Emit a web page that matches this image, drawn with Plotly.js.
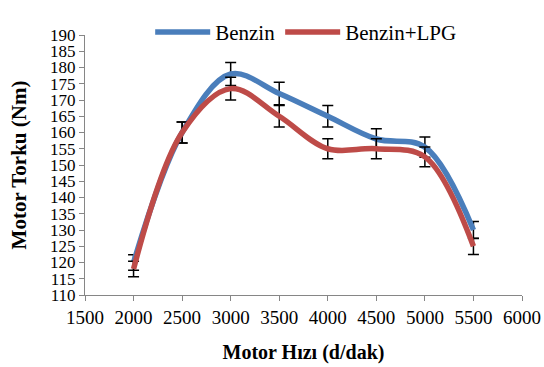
<!DOCTYPE html>
<html>
<head>
<meta charset="utf-8">
<script src="https://cdn.plot.ly/plotly-3.0.1.min.js"></script>
<style>html,body{margin:0;padding:0;background:#fff;}#chart{width:544px;height:367px;}</style>
</head>
<body>
<div id="chart"></div>
<script>
const rpm = [2000, 2500, 3000, 3500, 4000, 4500, 5000, 5500];
const benzin = [120, 160, 178, 172, 165, 158, 155.5, 130];
const benzinLPG = [118, 160, 173.5, 165, 155, 155, 152.5, 125];
const seriesNames = ['Benzin', 'Benzin+LPG'];
const errorPercent = 2;
const xTicks = [1500, 2000, 2500, 3000, 3500, 4000, 4500, 5000, 5500, 6000];
const yTicks = [110, 115, 120, 125, 130, 135, 140, 145, 150, 155, 160, 165, 170, 175, 180, 185, 190];

const font = '"Times New Roman", "Liberation Serif", "DejaVu Serif", serif';
function errCfg() {
  return {type: 'percent', value: errorPercent, visible: true, color: '#000', thickness: 1.5, width: 5.5};
}
const traces = [
  {x: rpm, y: benzin, name: seriesNames[0], mode: 'lines', type: 'scatter',
   line: {color: '#4A7EBB', width: 5.5, shape: 'spline', smoothing: 1}, error_y: errCfg()},
  {x: rpm, y: benzinLPG, name: seriesNames[1], mode: 'lines', type: 'scatter',
   line: {color: '#BE4B48', width: 5.5, shape: 'spline', smoothing: 1}, error_y: errCfg()}
];
const axisCommon = {
  showgrid: false, zeroline: false, showline: true, linecolor: '#868686', linewidth: 1,
  ticks: 'outside', ticklen: 5, tickcolor: '#868686', tickwidth: 1
};
const layout = {
  width: 544, height: 367,
  font: {family: font, color: '#000'},
  margin: {l: 85, r: 22, t: 19, b: 72},
  paper_bgcolor: '#fff', plot_bgcolor: '#fff',
  showlegend: true,
  legend: {orientation: 'h', x: 0.505, xanchor: 'center', y: 1.01, yanchor: 'middle',
           itemwidth: 55,
           font: {family: font, size: 21, color: '#000', weight: 'normal'}, bgcolor: 'rgba(0,0,0,0)'},
  xaxis: Object.assign({}, axisCommon, {
    range: [1500, 6000], tickmode: 'array', tickvals: xTicks, ticktext: xTicks.map(String),
    tickfont: {family: font, size: 19, color: '#000', weight: 'normal'},
    title: {text: 'Motor Hızı (d/dak)', font: {family: font, size: 20, color: '#000', weight: 'bold'}, standoff: 18}
  }),
  yaxis: Object.assign({}, axisCommon, {
    range: [110, 190], tickmode: 'array', tickvals: yTicks, ticktext: yTicks.map(String),
    tickfont: {family: font, size: 17, color: '#000', weight: 'normal'},
    title: {text: 'Motor Torku (Nm)', font: {family: font, size: 21, color: '#000', weight: 'bold'}, standoff: 17}
  })
};
Plotly.newPlot('chart', traces, layout, {displayModeBar: false, staticPlot: true});
</script>
</body>
</html>
